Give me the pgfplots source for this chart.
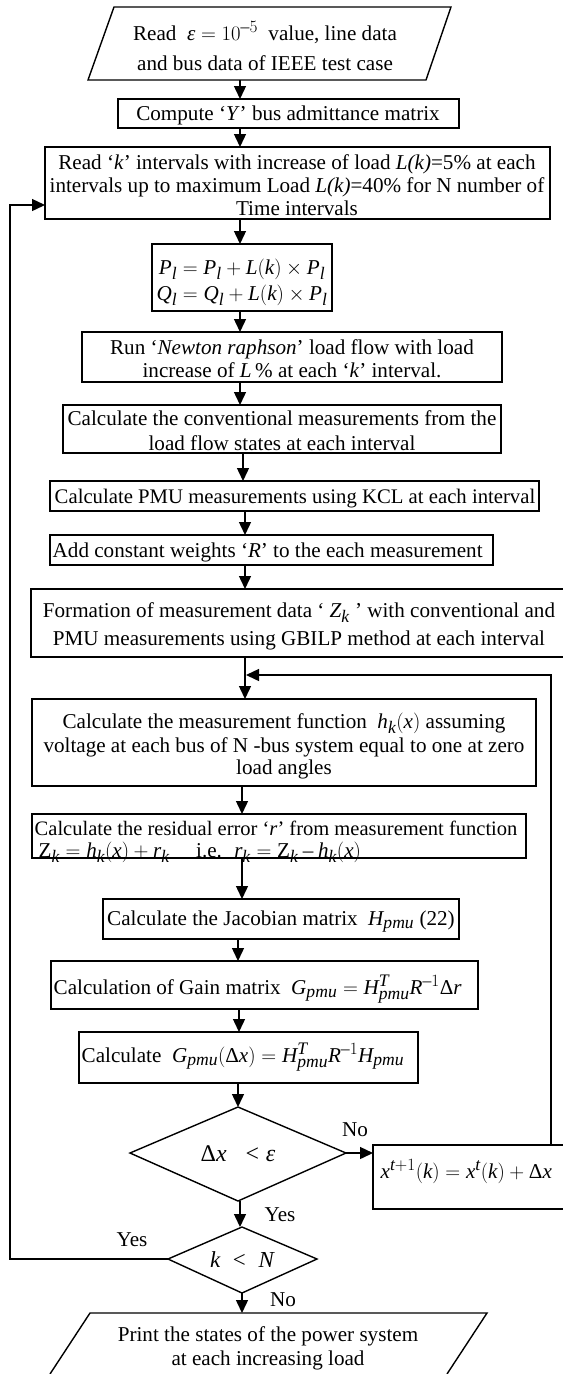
\documentclass[border=0pt]{standalone}
\usepackage{fontspec}
\setmainfont{Liberation Serif}
\usepackage[italic]{mathastext}
\usepackage{pgfplots}
\pgfplotsset{compat=1.18}
\usetikzlibrary{arrows.meta}
\newcommand{\TC}[3]{\node[anchor=base,inner sep=0pt] at (#1,#2) {#3};}
\newcommand{\TL}[3]{\node[anchor=base west,inner sep=0pt] at (#1,#2) {#3};}
\newcommand{\eps}{\mbox{\itshape ε}}
\newcommand{\Dl}{\mbox{Δ}}
\begin{document}
\begin{tikzpicture}[font=\fontsize{21.2}{24}\selectfont]
\begin{axis}[hide axis, scale only axis, width=563bp, height=1374bp,
  xmin=0, xmax=563, ymin=0, ymax=1374, y dir=reverse, clip=false]
\addplot[draw=none] coordinates {(0,0) (563,1374)};
\tikzset{every path/.append style={line width=1.4bp}, ar/.style={-{Triangle[length=13bp,width=12bp]}}}
% shapes
\draw (114,7) -- (451,7) -- (426,80) -- (88,80) -- cycle;
\draw (118,99) rectangle (459,128);
\draw (45,147) rectangle (550,219);
\draw (152,244) rectangle (332,311);
\draw (82,332) rectangle (502,382);
\draw (63,405) rectangle (501,453);
\draw (50,481) rectangle (539,511);
\draw (50,535) rectangle (493,565);
\draw (31,589) rectangle (575,657);
\draw (32,699) rectangle (536,786);
\draw (32,814) rectangle (526,858);
\draw (103,899) rectangle (459,939);
\draw (51,961) rectangle (478,1009);
\draw (79,1032) rectangle (418,1083);
\draw (238,1107) -- (346,1153) -- (238,1201) -- (130,1153) -- cycle;
\draw (373,1145) rectangle (580,1209);
\draw (242,1227) -- (317,1259) -- (242,1293) -- (168,1259) -- cycle;
\draw (50,1374) -- (90,1313) -- (487,1313) -- (447,1374);
% arrows
\draw[ar] (240,80) -- (240,99);
\draw[ar] (240,128) -- (240,147);
\draw[ar] (240,219) -- (240,244);
\draw[ar] (240,311) -- (240,332);
\draw[ar] (240,382) -- (240,405);
\draw[ar] (243,453) -- (243,481);
\draw[ar] (245,511) -- (245,535);
\draw[ar] (245,565) -- (245,589);
\draw[ar] (245,657) -- (245,699);
\draw[ar] (551,1145) -- (551,675) -- (246,675);
\draw[ar] (242,786) -- (242,814);
\draw[ar] (242,858) -- (242,899);
\draw[ar] (238,939) -- (238,961);
\draw[ar] (239,1009) -- (239,1032);
\draw[ar] (238,1083) -- (238,1107);
\draw[ar] (346,1153) -- (373,1153);
\draw[ar] (240,1201) -- (240,1227);
\draw[ar] (242,1293) -- (242,1313);
\draw[ar] (168,1259) -- (10,1259) -- (10,205) -- (45,205);
% texts
\TC{265}{40}{Read \ $\eps = 10^{-5}$ \ value, line data}
\TC{265}{70}{and bus data of IEEE test case}
\TC{288}{120}{Compute `\textit{Y}' bus admittance matrix}
\TC{297}{169}{Read `\textit{k}' intervals with increase of load \textit{L(k)}=5\% at each}
\TC{297}{192}{intervals up to maximum Load \textit{L(k)}=40\% for N number of}
\TC{297}{215}{Time intervals}
\TC{242}{274}{$P_l = P_l + L(k)\times P_l$}
\TC{242}{300}{$Q_l = Q_l + L(k)\times P_l$}
\TC{292}{354}{Run `\textit{Newton raphson}' load flow with load}
\TC{292}{377}{increase of \textit{L}\,\% at each `\textit{k}' interval.}
\TC{282}{425}{Calculate the conventional measurements from the}
\TC{282}{450}{load flow states at each interval}
\TC{295}{503}{\fontsize{20.8}{24}\selectfont Calculate PMU measurements using KCL at each interval}
\TL{52}{557}{Add constant weights `\textit{R}' to the each measurement}
\TC{299}{617}{Formation of measurement data ` $Z_k$ ' with conventional and}
\TC{299}{645}{PMU measurements using GBILP method at each interval}
\TC{284}{728}{Calculate the measurement function \ $h_k(x)$ assuming}
\TC{284}{752}{voltage at each bus of N -bus system equal to one at zero}
\TC{284}{774}{load angles}
\TL{34}{835}{\fontsize{20.6}{24}\selectfont Calculate the residual error `\textit{r}' from measurement function}
\TL{38}{857}{$\mathrm{Z}_k = h_k(x) + r_k$ \quad i.e. \ $r_k = \mathrm{Z}_k - h_k(x)$}
\TC{281}{925}{Calculate the Jacobian matrix \ $H_{pmu}$ (22)}
\TL{53}{994}{Calculation of Gain matrix \ $G_{pmu} = H^{T}_{pmu}R^{-1}\Dl r$}
\TL{81}{1062}{Calculate \ $G_{pmu}(\Dl x) = H^{T}_{pmu}R^{-1}H_{pmu}$}
\TC{238}{1161}{\fontsize{24}{26}\selectfont $\Dl x\ \ <\eps$}
\TC{355}{1136}{No}
\TL{380}{1178}{$x^{t+1}(k) = x^t(k) + \Dl x$}
\TC{280}{1221}{Yes}
\TC{242}{1267}{\fontsize{23}{26}\selectfont $k\ <\ N$}
\TC{132}{1246}{Yes}
\TC{283}{1306}{No}
\TC{268}{1341}{Print the states of the power system}
\TC{268}{1365}{at each increasing load}
\end{axis}
\pgfresetboundingbox
\useasboundingbox (current axis.south west) rectangle (current axis.north east);
\end{tikzpicture}
\end{document}
